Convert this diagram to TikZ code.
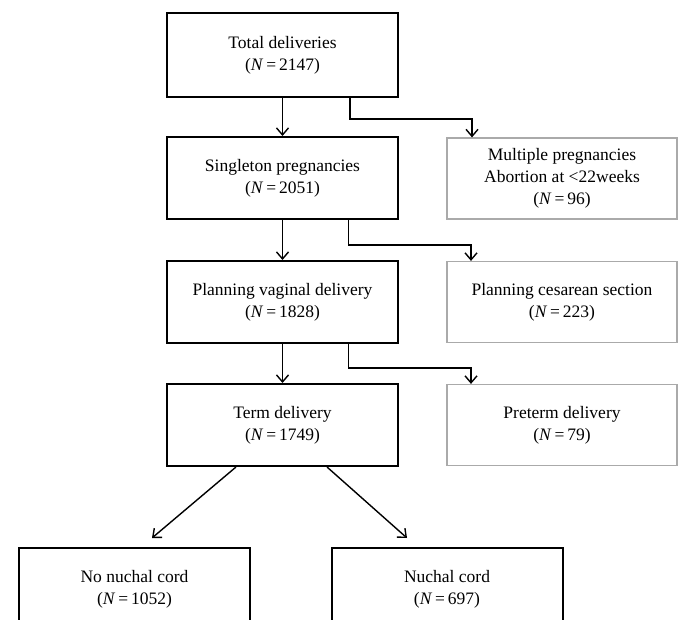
\documentclass[tikz,border=0pt]{standalone}
\usepackage{fontspec}
\setmainfont{Liberation Serif}
\usetikzlibrary{arrows.meta}
\definecolor{greyline}{RGB}{170,170,170}
\tikzset{
  mainbox/.style={draw=black, line width=2pt, minimum width=231pt, minimum height=82pt, inner sep=0pt, align=center, font=\fontsize{17.5}{22}\selectfont},
  sidebox/.style={draw=greyline, line width=1.2pt, minimum width=230pt, minimum height=81pt, inner sep=0pt, align=center, font=\fontsize{17.5}{22}\selectfont},
  conn/.style={line width=1.4pt, -{Straight Barb[length=7pt,width=12pt,line width=1.4pt]}}
}
\begin{document}
\begin{tikzpicture}[x=1pt,y=-1pt]
\useasboundingbox (0,0) rectangle (678,620);
\clip (0,0) rectangle (678,620);
\node[mainbox, minimum height=84pt] (b1) at (282.5,55) {Total deliveries\\(\textit{N}\,=\,2147)};
\node[mainbox] (b2) at (282.5,178) {Singleton pregnancies\\(\textit{N}\,=\,2051)};
\node[mainbox] (b3) at (282.5,302) {Planning vaginal delivery\\(\textit{N}\,=\,1828)};
\node[mainbox] (b4) at (282.5,425) {Term delivery\\(\textit{N}\,=\,1749)};
\node[sidebox] (g1) at (562,178.5) {Multiple pregnancies\\Abortion at <22weeks\\(\textit{N}\,=\,96)};
\node[sidebox] (g2) at (562,302) {Planning cesarean section\\(\textit{N}\,=\,223)};
\node[sidebox] (g3) at (562,425) {Preterm delivery\\(\textit{N}\,=\,79)};
\node[mainbox] (b5) at (134.5,589) {No nuchal cord\\(\textit{N}\,=\,1052)};
\node[mainbox] (b6) at (447,589) {Nuchal cord\\(\textit{N}\,=\,697)};
\draw[conn] (b1.south) -- (b2.north);
\draw[conn] (b2.south) -- (b3.north);
\draw[conn] (b3.south) -- (b4.north);
\draw[conn] ([xshift=67.5pt]b1.south) -- ++(0,21) -| ([xshift=-90pt]g1.north);
\draw[conn] ([xshift=66pt]b2.south) -- ++(0,25) -| ([xshift=-91pt]g2.north);
\draw[conn] ([xshift=66pt]b3.south) -- ++(0,24) -| ([xshift=-91pt]g3.north);
\draw[conn] ([xshift=-46.5pt]b4.south) -- ([xshift=17.5pt,yshift=9pt]b5.north);
\draw[conn] ([xshift=44.5pt]b4.south) -- ([xshift=-40pt,yshift=9pt]b6.north);
\end{tikzpicture}
\end{document}
